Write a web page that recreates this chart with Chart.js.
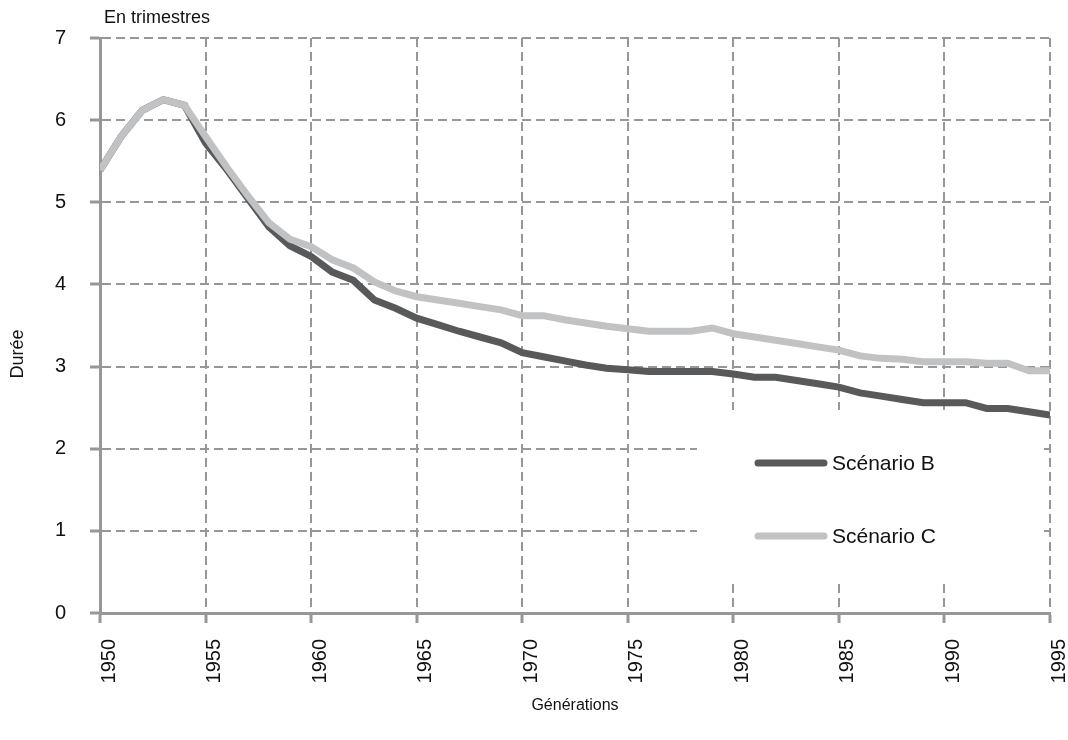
<!DOCTYPE html>
<html>
<head>
<meta charset="utf-8">
<script src="https://cdn.jsdelivr.net/npm/chart.js@4"></script>
<style>
  html, body { margin: 0; padding: 0; background: #fff; }
  #wrap { width: 1068px; height: 740px; }
</style>
</head>
<body>
<div id="wrap"><canvas id="chart" width="1068" height="740"></canvas></div>
<script>
const years = [];
for (let y = 1950; y <= 1995; y++) years.push(y);

const scenarioB = [
  5.39, 5.80, 6.12, 6.25, 6.18, 5.72, 5.40, 5.05, 4.70, 4.47,
  4.34, 4.15, 4.05, 3.81, 3.71, 3.59, 3.51, 3.43, 3.36, 3.29,
  3.17, 3.12, 3.07, 3.02, 2.98, 2.96, 2.94, 2.94, 2.94, 2.94,
  2.91, 2.87, 2.87, 2.83, 2.79, 2.75, 2.68, 2.64, 2.60, 2.56,
  2.56, 2.56, 2.49, 2.49, 2.45, 2.41
];
const scenarioC = [
  5.39, 5.80, 6.12, 6.25, 6.18, 5.80, 5.43, 5.08, 4.75, 4.55,
  4.46, 4.30, 4.20, 4.03, 3.92, 3.85, 3.81, 3.77, 3.73, 3.69,
  3.62, 3.62, 3.57, 3.53, 3.49, 3.46, 3.43, 3.43, 3.43, 3.47,
  3.40, 3.36, 3.32, 3.28, 3.24, 3.20, 3.13, 3.10, 3.09, 3.06,
  3.06, 3.06, 3.04, 3.04, 2.95, 2.95
];
const seriesLabels = ["Scénario B", "Scénario C"];
const seriesColors = ["#58595b", "#c1c2c4"];

const FONT = "'Liberation Sans', Arial, sans-serif";
const gridGrey = "#979797";

// white box behind the legend + legend + free texts
const extras = {
  id: "extras",
  beforeDatasetsDraw(chart) {
    const ctx = chart.ctx;
    ctx.save();
    ctx.fillStyle = "#fff";
    ctx.fillRect(697, 410, 347, 170);
    ctx.restore();
  },
  afterDraw(chart) {
    const ctx = chart.ctx;
    ctx.save();
    ctx.fillStyle = "#111";
    ctx.font = "18px " + FONT;
    ctx.textBaseline = "middle";
    ctx.textAlign = "left";
    ctx.fillText("En trimestres", 104, 18);

    ctx.save();
    ctx.translate(18, 354);
    ctx.rotate(-Math.PI / 2);
    ctx.textAlign = "center";
    ctx.fillText("Durée", 0, 0);
    ctx.restore();

    const rows = [463, 536];
    chart.data.datasets.forEach((ds, i) => {
      ctx.strokeStyle = ds.borderColor;
      ctx.lineWidth = 7;
      ctx.lineCap = "round";
      ctx.beginPath();
      ctx.moveTo(758, rows[i]);
      ctx.lineTo(824, rows[i]);
      ctx.stroke();
      ctx.fillStyle = "#111";
      ctx.font = "21px " + FONT;
      ctx.textAlign = "left";
      ctx.fillText(ds.label, 832, rows[i] + 1);
    });
    ctx.restore();
  }
};

const gridOpts = {
  color: gridGrey,
  lineWidth: 2,
  tickLength: 10,
  tickColor: gridGrey,
  tickWidth: 3,
  tickBorderDash: []
};

new Chart(document.getElementById("chart").getContext("2d"), {
  type: "line",
  data: {
    datasets: [
      {
        label: seriesLabels[0],
        data: years.map((y, i) => ({ x: y, y: scenarioB[i] })),
        borderColor: seriesColors[0],
        borderWidth: 7,
        pointRadius: 0,
        tension: 0,
        order: 2
      },
      {
        label: seriesLabels[1],
        data: years.map((y, i) => ({ x: y, y: scenarioC[i] })),
        borderColor: seriesColors[1],
        borderWidth: 7,
        pointRadius: 0,
        tension: 0,
        order: 1
      }
    ]
  },
  options: {
    responsive: false,
    animation: false,
    layout: { padding: { left: 0, right: 18, top: 38, bottom: 0 } },
    plugins: {
      legend: { display: false },
      tooltip: { enabled: false }
    },
    scales: {
      x: {
        type: "linear",
        min: 1950,
        max: 1995,
        afterFit: s => { s.height = 127; s.paddingLeft = 0; s.paddingRight = 0; },
        ticks: {
          stepSize: 5,
          minRotation: 90,
          maxRotation: 90,
          padding: 16,
          labelOffset: 9,
          color: "#111",
          font: { family: FONT, size: 20 },
          callback: v => String(v)
        },
        grid: gridOpts,
        border: { color: gridGrey, width: 3, dash: [9, 5] },
        title: {
          display: true,
          text: "Générations",
          color: "#111",
          font: { family: FONT, size: 16 },
          padding: { top: 0, bottom: 25 }
        }
      },
      y: {
        min: 0,
        max: 7,
        afterFit: s => { s.width = 100; },
        ticks: {
          stepSize: 1,
          padding: 24,
          color: "#111",
          font: { family: FONT, size: 20 }
        },
        grid: gridOpts,
        border: { color: gridGrey, width: 3, dash: [9, 5] }
      }
    }
  },
  plugins: [extras]
});
</script>
</body>
</html>
